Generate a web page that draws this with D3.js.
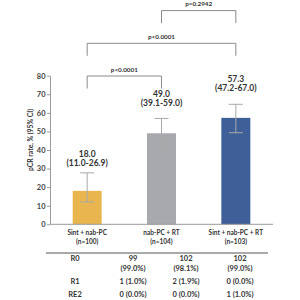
<!DOCTYPE html>
<html><head><meta charset="utf-8">
<script src="https://cdn.jsdelivr.net/npm/d3@7"></script>
<style>body{margin:0;background:#fff}svg{display:block}text{font-family:Lato,"Open Sans",sans-serif;font-weight:700;fill:#333}</style>
</head><body><svg id="c" width="300" height="300"></svg>
<script>
const categories = ["Sint + nab-PC", "nab-PC + RT", "Sint + nab-PC + RT"];
const groupN = ["(n=100)", "(n=104)", "(n=103)"];
const values = [18.0, 49.0, 57.3];
const ciText = ["(11.0-26.9)", "(39.1-59.0)", "(47.2-67.0)"];
const ciTextHigh = [26.9, 59.0, 67.0];
const errLow = [12.0, 41.5, 49.3];
const errHigh = [27.7, 57.0, 64.6];
const colors = ["#E9B54E", "#A8A9AC", "#3F5F98"];
const yTicks = [0, 10, 20, 30, 40, 50, 60, 70, 80];
const comparisons = [
  {a: 0, b: 1, label: "p<0.0001"},
  {a: 0, b: 2, label: "p<0.0001"},
  {a: 1, b: 2, label: "p=0.2942"}
];
const rowLabels = ["R0", "R1", "RE2"];
const r0Counts = ["99", "102", "102"];
const r0Pcts = ["(99.0%)", "(98.1%)", "(99.0%)"];
const r1Vals = ["1 (1.0%)", "2 (1.9%)", "0 (0.0%)"];
const re2Vals = ["0 (0.0%)", "0 (0.0%)", "1 (1.0%)"];

const svg = d3.select("#c");
const x = d3.scaleBand().domain(d3.range(categories.length)).range([50, 273]).paddingInner(0.61).paddingOuter(0.305);
const y = d3.scaleLinear().domain([0, 80]).range([224.3, 75.7]);

// y axis
const ya = svg.append("g").attr("transform", "translate(50,0)")
  .call(d3.axisLeft(y).tickValues(yTicks).tickSize(3).tickSizeOuter(0));
ya.select(".domain").attr("stroke", "#9a9a9a");
ya.selectAll(".tick line").attr("stroke", "#9a9a9a");
ya.selectAll(".tick text").attr("font-size", 7.5).attr("x", -4.5).style("fill", "#444");

svg.append("text").attr("transform", "translate(31,140) rotate(-90)")
  .attr("text-anchor", "middle").attr("dominant-baseline", "middle")
  .attr("font-size", 6.8).text("pCR rate, % (95% CI)");

// bars
svg.selectAll("rect.bar").data(values).join("rect")
  .attr("x", (d, i) => x(i)).attr("width", x.bandwidth())
  .attr("y", d => y(d)).attr("height", d => y(0) - y(d))
  .attr("fill", (d, i) => colors[i]);

// x axis line
svg.append("line").attr("x1", 50).attr("x2", 273).attr("y1", y(0)).attr("y2", y(0))
  .attr("stroke", "#9a9a9a");

// error bars
const eb = svg.append("g").attr("stroke", "#a9a9a9").attr("stroke-width", 1);
values.forEach((v, i) => {
  const cx = x(i) + x.bandwidth() / 2;
  eb.append("line").attr("x1", cx).attr("x2", cx).attr("y1", y(errLow[i])).attr("y2", y(errHigh[i]));
  eb.append("line").attr("x1", cx - 7).attr("x2", cx + 7).attr("y1", y(errLow[i])).attr("y2", y(errLow[i]));
  eb.append("line").attr("x1", cx - 7).attr("x2", cx + 7).attr("y1", y(errHigh[i])).attr("y2", y(errHigh[i]));
});

// value labels
values.forEach((v, i) => {
  const cx = x(i) + x.bandwidth() / 2;
  const base = y(ciTextHigh[i]) - 11;
  svg.append("text").attr("x", cx).attr("y", base - 9).attr("text-anchor", "middle")
    .attr("dominant-baseline", "middle").attr("font-size", 8.5).text(v.toFixed(1));
  svg.append("text").attr("x", cx).attr("y", base).attr("text-anchor", "middle")
    .attr("dominant-baseline", "middle").attr("font-size", 8.5).text(ciText[i]);
});

// category labels
categories.forEach((c, i) => {
  const cx = x(i) + x.bandwidth() / 2;
  svg.append("text").attr("x", cx).attr("y", 233).attr("text-anchor", "middle")
    .attr("dominant-baseline", "middle").attr("font-size", 6.5).text(c);
  svg.append("text").attr("x", cx).attr("y", 242).attr("text-anchor", "middle")
    .attr("dominant-baseline", "middle").attr("font-size", 6.5).text(groupN[i]);
});

// brackets
comparisons.forEach((c, k) => {
  const level = [0, 1, 2][k];
  const by = 76 - level * 32.7;
  const x1 = x(c.a) + x.bandwidth() / 2, x2 = x(c.b) + x.bandwidth() / 2;
  svg.append("path").attr("d", `M${x1},${by + 12.5}V${by}H${x2}V${by + 12.5}`)
    .attr("fill", "none").attr("stroke", "#8a8a8a").attr("stroke-width", 1);
  svg.append("text").attr("x", (x1 + x2) / 2).attr("y", by - 6).attr("text-anchor", "middle")
    .attr("dominant-baseline", "middle").attr("font-size", 6.3).text(c.label);
});

// table
svg.append("line").attr("x1", 46).attr("x2", 268).attr("y1", 253).attr("y2", 253)
  .attr("stroke", "#555").attr("stroke-width", 1);
const colX = [133, 186, 240];
const rowY = [259, 282, 295];
rowLabels.forEach((r, j) => {
  svg.append("text").attr("x", 75).attr("y", rowY[j]).attr("text-anchor", "middle")
    .attr("dominant-baseline", "middle").attr("font-size", 7.5).text(r);
});
colX.forEach((cx, i) => {
  svg.append("text").attr("x", cx).attr("y", rowY[0]).attr("text-anchor", "middle")
    .attr("dominant-baseline", "middle").attr("font-size", 7.5).text(r0Counts[i]);
  svg.append("text").attr("x", cx).attr("y", rowY[0] + 10).attr("text-anchor", "middle")
    .attr("dominant-baseline", "middle").attr("font-size", 7.5).text(r0Pcts[i]);
  svg.append("text").attr("x", cx).attr("y", rowY[1]).attr("text-anchor", "middle")
    .attr("dominant-baseline", "middle").attr("font-size", 7.5).text(r1Vals[i]);
  svg.append("text").attr("x", cx).attr("y", rowY[2]).attr("text-anchor", "middle")
    .attr("dominant-baseline", "middle").attr("font-size", 7.5).text(re2Vals[i]);
});
</script></body></html>
